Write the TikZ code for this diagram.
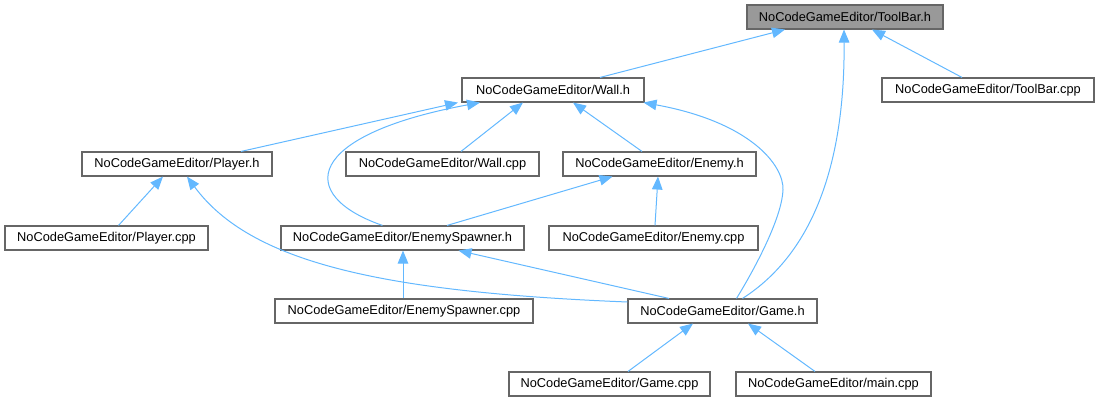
\documentclass[tikz,border=0pt]{standalone}
\usepackage{fontspec}
\setmainfont{Liberation Sans}
\usetikzlibrary{arrows.meta}
\definecolor{edgeblue}{HTML}{63B8FF}
\definecolor{boxline}{HTML}{666666}
\definecolor{rootfill}{HTML}{999999}
\begin{document}
\begin{tikzpicture}[x=1pt,y=-1pt,
  file/.style={draw=boxline, line width=1.1pt, fill=white, minimum height=24pt,
    inner sep=0pt, font=\fontsize{12.8}{14}\selectfont, anchor=center},
  root/.style={file, fill=rootfill},
  dep/.style={draw=edgeblue, line width=1pt, -{Triangle[length=13pt,width=10.5pt]}}]
\useasboundingbox (0,0) rectangle (1099,403);
% nodes
\node[root, minimum width=196pt] (toolbarh) at (845,17) {NoCodeGameEditor/ToolBar.h};
\node[file, minimum width=182pt] (wallh) at (553,90) {NoCodeGameEditor/Wall.h};
\node[file, minimum width=212pt] (toolbarcpp) at (988,90) {NoCodeGameEditor/ToolBar.cpp};
\node[file, minimum width=190pt] (playerh) at (177,164) {NoCodeGameEditor/Player.h};
\node[file, minimum width=193pt] (wallcpp) at (442.5,164) {NoCodeGameEditor/Wall.cpp};
\node[file, minimum width=193pt] (enemyh) at (659.5,164) {NoCodeGameEditor/Enemy.h};
\node[file, minimum width=203pt] (playercpp) at (106.5,238) {NoCodeGameEditor/Player.cpp};
\node[file, minimum width=243pt] (esh) at (402.5,238) {NoCodeGameEditor/EnemySpawner.h};
\node[file, minimum width=209pt] (enemycpp) at (653.5,238) {NoCodeGameEditor/Enemy.cpp};
\node[file, minimum width=258pt] (escpp) at (404,311) {NoCodeGameEditor/EnemySpawner.cpp};
\node[file, minimum width=189pt] (gameh) at (722.5,311) {NoCodeGameEditor/Game.h};
\node[file, minimum width=201pt] (gamecpp) at (609.5,384) {NoCodeGameEditor/Game.cpp};
\node[file, minimum width=195pt] (maincpp) at (833.5,384) {NoCodeGameEditor/main.cpp};
\coordinate (wallbend) at (783,190);
% edges
\draw[dep] ([xshift=47pt]wallh.north) -- ([xshift=-60pt]toolbarh.south);
\draw[dep] ([xshift=-26pt]toolbarcpp.north) -- ([xshift=27pt]toolbarh.south);
\draw[dep] ([xshift=20pt]gameh.north) .. controls (815,252) and (845,160) .. ([xshift=-1pt]toolbarh.south);
\draw[dep] ([xshift=14pt]gameh.north) .. controls (760,260) and (782,215) .. (wallbend)
  .. controls (784,165) and (750,122) .. ([xshift=-1pt]wallh.south east);
\draw[dep] ([xshift=64pt]playerh.north) -- ([xshift=-95pt]wallh.south);
\draw[dep] ([xshift=-20pt]esh.north) .. controls (295,195) and (305,135) .. ([xshift=-73pt]wallh.south);
\draw[dep] ([xshift=18.5pt]wallcpp.north) -- ([xshift=-30pt]wallh.south);
\draw[dep] ([xshift=-17.5pt]enemyh.north) -- ([xshift=20pt]wallh.south);
\draw[dep] ([xshift=12pt]playercpp.north) -- ([xshift=-14pt]playerh.south);
\draw[dep] ([yshift=9pt]gameh.west) .. controls (380,292) and (250,262) .. ([xshift=10pt]playerh.south);
\draw[dep] ([xshift=44.5pt]esh.north) -- ([xshift=-47pt]enemyh.south);
\draw[dep] ([xshift=1.5pt]enemycpp.north) -- ([xshift=-1.5pt]enemyh.south);
\draw[dep] ([xshift=-1pt]escpp.north) -- ([xshift=0.5pt]esh.south);
\draw[dep] ([xshift=-53.5pt]gameh.north) -- ([xshift=56pt]esh.south);
\draw[dep] ([xshift=18.5pt]gamecpp.north) -- ([xshift=-29.5pt]gameh.south);
\draw[dep] ([xshift=-18.5pt]maincpp.north) -- ([xshift=25.5pt]gameh.south);
\end{tikzpicture}
\end{document}
